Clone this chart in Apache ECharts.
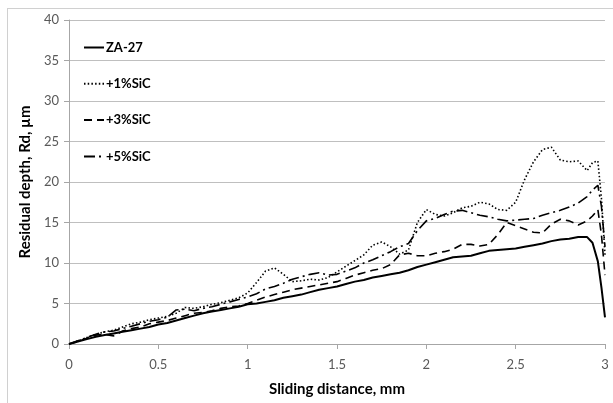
<!DOCTYPE html>
<html>
<head>
<meta charset="utf-8">
<script src="https://cdn.jsdelivr.net/npm/echarts@6/dist/echarts.min.js"></script>
<style>
html,body{margin:0;padding:0;background:#fff;}
#chart{width:613px;height:403px;}
</style>
</head>
<body>
<div id="chart"></div>
<script>
var xs = [0,0.05,0.1,0.15,0.2,0.25,0.3,0.35,0.4,0.45,0.5,0.55,0.6,0.65,0.7,0.75,0.8,0.85,0.9,0.95,
  1.0,1.05,1.1,1.15,1.2,1.25,1.3,1.35,1.4,1.45,1.5,1.55,1.6,1.65,1.7,1.75,1.8,1.85,1.9,1.95,
  2.0,2.05,2.1,2.15,2.2,2.25,2.3,2.35,2.4,2.45,2.5,2.55,2.6,2.65,2.7,2.75,2.8,2.85,2.9,2.93,2.96,2.98,3.0];

var za27 = [0,0.3,0.6,0.9,1.1,1.3,1.5,1.7,1.9,2.1,2.4,2.6,2.9,3.2,3.5,3.8,4.0,4.2,4.4,4.6,
  4.9,5.0,5.2,5.4,5.7,5.9,6.1,6.4,6.7,6.9,7.1,7.4,7.7,7.9,8.2,8.4,8.6,8.8,9.1,9.5,
  9.8,10.1,10.4,10.7,10.8,10.9,11.2,11.5,11.6,11.7,11.8,12.0,12.2,12.4,12.7,12.9,13.0,13.2,13.2,12.5,10.2,7.0,3.3];

var sic1 = [0,0.4,0.8,1.2,1.5,1.7,2.1,2.5,2.7,3.0,3.2,3.4,3.8,4.5,4.4,4.6,4.9,5.1,5.4,5.7,
  6.3,7.6,9.0,9.4,8.6,7.7,7.8,8.0,7.9,8.2,8.9,9.6,10.3,11.0,12.2,12.6,12.0,11.1,11.6,15.0,
  16.6,16.0,15.8,16.2,16.8,17.0,17.5,17.3,16.6,16.5,17.5,20.3,22.5,24.0,24.3,22.7,22.5,22.6,21.4,22.4,22.6,18.0,11.0];

var sic3 = [0,0.3,0.7,1.1,1.2,1.0,1.6,1.9,2.1,2.5,2.7,2.9,3.2,3.5,3.8,3.9,4.1,4.4,4.6,4.7,
  5.0,5.4,5.8,6.1,6.4,6.7,6.9,7.1,7.3,7.5,7.7,8.1,8.5,8.8,9.1,9.3,9.8,11.0,11.2,10.9,
  10.9,11.2,11.4,11.7,12.3,12.3,12.1,12.3,13.5,15.0,14.6,14.2,13.8,13.7,14.8,15.4,15.2,14.7,15.2,15.8,16.6,13.5,8.5];

var sic5 = [0,0.4,0.8,1.2,1.5,1.6,1.9,2.2,2.5,2.8,3.0,3.3,4.2,4.3,4.1,4.4,4.6,4.9,5.2,5.5,
  5.8,6.2,6.8,7.1,7.5,8.0,8.3,8.6,8.8,8.5,8.6,9.0,9.4,10.0,10.4,10.9,11.4,12.0,12.4,14.0,
  15.2,15.5,16.0,16.4,16.5,16.2,15.9,15.7,15.4,15.2,15.3,15.4,15.5,15.9,16.2,16.5,16.9,17.4,18.2,19.0,19.6,17.0,12.0];

var seriesNames = ['ZA-27', '+1%SiC', '+3%SiC', '+5%SiC'];
var xTickLabels = ['0', '0.5', '1', '1.5', '2', '2.5', '3'];
var yTickLabels = ['0', '5', '10', '15', '20', '25', '30', '35', '40'];

function pairs(ys) { return xs.map(function (x, i) { return [x, ys[i]]; }); }

var FONT = 'Lato, "Open Sans", sans-serif';
var chart = echarts.init(document.getElementById('chart'), null, {renderer: 'canvas'});

var styles = [
  {width: 2, type: 'solid'},
  {width: 1.6, type: [1.5, 2.2]},
  {width: 1.6, type: [8, 5]},
  {width: 1.6, type: [11, 4, 2, 4]}
];
var datas = [za27, sic1, sic3, sic5];

chart.setOption({
  animation: false,
  backgroundColor: '#fff',
  grid: {left: 69, right: 8, top: 20, bottom: 59, containLabel: false},
  legend: {
    left: 83, top: 41, orient: 'vertical', padding: 0,
    itemWidth: 20, itemHeight: 14, itemGap: 23.3,
    itemStyle: {opacity: 0},
    textStyle: {fontFamily: FONT, fontWeight: 'bold', fontSize: 13, color: '#000', padding: [0, 0, 0, -3]},
    data: seriesNames
  },
  xAxis: {
    type: 'value', min: 0, max: 3, interval: 0.5,
    name: 'Sliding distance, mm', nameLocation: 'middle', nameGap: 38,
    nameTextStyle: {fontFamily: FONT, fontWeight: 'bold', fontSize: 15, color: '#000'},
    axisLine: {lineStyle: {color: '#a6a6a6', width: 1}},
    axisTick: {show: true, length: 5, lineStyle: {color: '#a6a6a6'}},
    axisLabel: {fontFamily: FONT, fontSize: 13, color: '#595959', margin: 14,
      formatter: function (v) { var i = Math.round(v / 0.5); return xTickLabels[i]; }},
    splitLine: {show: false}
  },
  yAxis: {
    type: 'value', min: 0, max: 40, interval: 5,
    name: 'Residual depth, Rd, \u00b5m', nameLocation: 'middle', nameGap: 35,
    nameTextStyle: {fontFamily: FONT, fontWeight: 'bold', fontSize: 15, color: '#000'},
    axisLine: {show: true, lineStyle: {color: '#a6a6a6', width: 1}},
    axisTick: {show: true, length: 5, lineStyle: {color: '#a6a6a6'}},
    axisLabel: {fontFamily: FONT, fontSize: 13, color: '#595959', margin: 10,
      formatter: function (v) { return yTickLabels[Math.round(v / 5)]; }},
    splitLine: {show: true, lineStyle: {color: '#bfbfbf', width: 1}}
  },
  graphic: [
    {type: 'line', shape: {x1: 7.5, y1: 8, x2: 7.5, y2: 403}, style: {stroke: '#d0d0d0', lineWidth: 1}, silent: true},
    {type: 'line', shape: {x1: 7, y1: 8.5, x2: 613, y2: 8.5}, style: {stroke: '#d0d0d0', lineWidth: 1}, silent: true}
  ],
  series: seriesNames.map(function (n, i) {
    return {
      name: n, type: 'line', symbol: 'none', showSymbol: false,
      data: pairs(datas[i]),
      lineStyle: {color: '#000', width: styles[i].width, type: styles[i].type},
      itemStyle: {color: '#000'},
      z: 10 - i
    };
  })
});
</script>
</body>
</html>
